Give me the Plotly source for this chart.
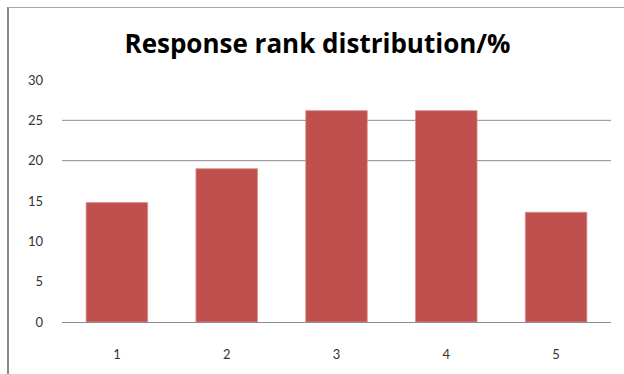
import plotly.graph_objects as go

categories = ["1", "2", "3", "4", "5"]
values = [14.8, 19.0, 26.2, 26.2, 13.6]
y_ticks = [0, 5, 10, 15, 20, 25, 30]
grid_levels = [20, 25]

W, H = 624, 374
L, R, T, B = 62, 13, 80, 52
pw, ph = W - L - R, H - T - B

def px_x(x):
    return (x - L) / pw

def px_y(y):
    return (H - B - y) / ph

fig = go.Figure(go.Bar(
    x=categories, y=values,
    marker=dict(color="#C0504D", line=dict(color="#D88A88", width=0.8)),
    width=0.56,
))

shapes = []
for g in grid_levels:
    shapes.append(dict(type="line", xref="paper", yref="y", x0=0, x1=1, y0=g, y1=g,
                       line=dict(color="#8C8C8C", width=1), layer="below"))
# frame lines (left and top border of the chart area)
shapes.append(dict(type="line", xref="paper", yref="paper", x0=px_x(8), x1=px_x(8),
                   y0=px_y(7), y1=px_y(374), line=dict(color="#8A8A8A", width=2)))
shapes.append(dict(type="line", xref="paper", yref="paper", x0=px_x(8), x1=px_x(624),
                   y0=px_y(7.5), y1=px_y(7.5), line=dict(color="#A8A8A8", width=1)))

fig.update_layout(
    width=W, height=H,
    margin=dict(l=L, r=R, t=T, b=B, pad=0),
    paper_bgcolor="white", plot_bgcolor="white",
    showlegend=False,
    title=dict(text="<b>Response rank distribution/%</b>", x=317.5 / W, xanchor="center",
               y=1 - 44 / H, yanchor="middle",
               font=dict(family="Open Sans", size=26, color="#000000")),
    xaxis=dict(showgrid=False, showline=True, linecolor="#8C8C8C", linewidth=1,
               ticks="", ticklabelstandoff=20,
               tickfont=dict(family="Lato", size=13, color="#333333")),
    yaxis=dict(range=[0, 30], tickvals=y_ticks, showgrid=False, zeroline=False,
               showline=False, ticks="", ticklabelstandoff=18,
               tickfont=dict(family="Lato", size=13, color="#333333")),
    shapes=shapes,
    bargap=0.44,
)

fig.write_html("out.html")
